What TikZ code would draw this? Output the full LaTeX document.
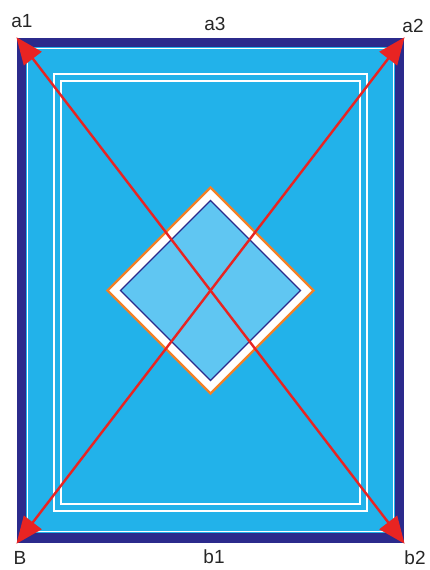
\documentclass[tikz,border=0pt]{standalone}
\usepackage{fontspec}
\setmainfont{Liberation Sans}
\usepackage{xcolor}
\usetikzlibrary{arrows.meta}

\definecolor{frameblue}{RGB}{43,42,140}
\definecolor{poolblue}{RGB}{34,178,234}
\definecolor{centerblue}{RGB}{96,198,242}
\definecolor{rimorange}{RGB}{242,128,38}
\definecolor{arrowred}{RGB}{232,36,34}
\definecolor{labelgray}{RGB}{38,38,38}

\begin{document}
\begin{tikzpicture}[
  x=1pt,y=-1pt,
  corner/.style={text=labelgray,font=\fontsize{19}{19}\selectfont,inner sep=0pt},
  whiteline/.style={draw=white,line width=1.6pt},
  arrow/.style={{Triangle[length=27pt,width=22pt]}-{Triangle[length=27pt,width=22pt]},draw=arrowred,line width=2.4pt,shorten <=-1pt,shorten >=-1pt}
]
  \useasboundingbox[fill=white] (0,0) rectangle (429,570);

  % frame corners
  \coordinate (a1) at (17,38);
  \coordinate (a2) at (404,38);
  \coordinate (B) at (17,543);
  \coordinate (b2) at (404,543);
  \coordinate (mid) at (210.5,290.5);

  % pool
  \fill[frameblue] (a1) rectangle (b2);
  \fill[poolblue] (26,47) rectangle (395,533);
  \draw[whiteline,line width=1.2pt] (27.5,48.5) rectangle (393.5,531.5);
  \draw[whiteline] (54,74) rectangle (367,511);
  \draw[whiteline] (61,81) rectangle (360,504);

  % centre diamond
  \draw[fill=white,draw=rimorange,line width=2.4pt]
    ([yshift=-103]mid) -- ([xshift=103]mid) -- ([yshift=103]mid) -- ([xshift=-103]mid) -- cycle;
  \draw[fill=centerblue,draw=frameblue,line width=1.3pt]
    ([yshift=-90]mid) -- ([xshift=90]mid) -- ([yshift=90]mid) -- ([xshift=-90]mid) -- cycle;

  % diagonals
  \draw[arrow] (a1) -- (b2);
  \draw[arrow] (a2) -- (B);

  % labels
  \node[corner] (la1) at (22,21) {a1};
  \node[corner] (la3) at (215,24) {a3};
  \node[corner] (la2) at (413,26) {a2};
  \node[corner] (lB) at (20,558) {B};
  \node[corner] (lb1) at (214,557) {b1};
  \node[corner] (lb2) at (415,558) {b2};
\end{tikzpicture}
\end{document}
